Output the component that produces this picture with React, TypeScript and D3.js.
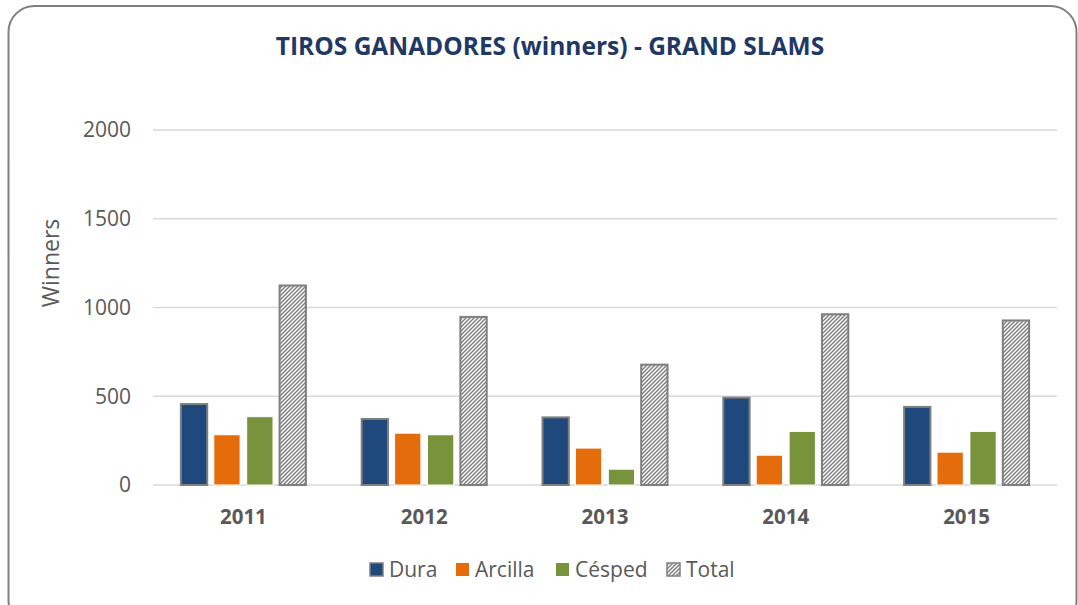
import React from "react";
import * as d3 from "d3";

const years = ["2011", "2012", "2013", "2014", "2015"];
const seriesNames = ["Dura", "Arcilla", "Césped", "Total"];
const dura = [456, 372, 381, 492, 440];
const arcilla = [283, 292, 208, 168, 185];
const cesped = [385, 283, 89, 302, 302];
const total = [1124, 947, 678, 962, 927];
const yTicks = [0, 500, 1000, 1500, 2000];

const W = 1078;
const H = 605;
const FONT = "'Open Sans', 'Liberation Sans', sans-serif";

export default function App() {
  const values = [dura, arcilla, cesped, total];
  const fills = ["#1F497D", "#E46C0A", "#77933C", "url(#hatch)"];
  const strokes = ["#7F7F7F", "#FFFFFF", "#FFFFFF", "#7F7F7F"];
  const strokeW = [2, 1, 1, 2];

  const x0 = d3.scaleBand<string>().domain(years).range([153, 1057]).padding(0);
  const groupW = 125;
  const y = d3.scaleLinear().domain([0, 2000]).range([485, 130]);

  const legendX = [370, 456, 556, 667];

  return (
    <svg
      width={W}
      height={H}
      style={{ position: "absolute", left: 0, top: 0, background: "#fff" }}
      fontFamily={FONT}
    >
      <defs>
        <pattern id="hatch" patternUnits="userSpaceOnUse" width="4" height="4">
          <rect width="4" height="4" fill="#fff" />
          <path d="M-1,1 l2,-2 M0,4 l4,-4 M3,5 l2,-2" stroke="#7F7F7F" strokeWidth="1.5" />
        </pattern>
      </defs>
      <rect x={8.5} y={6} width={1068} height={620} rx={26} ry={26} fill="#fff" stroke="#808080" strokeWidth={2} />
      <text x={550} y={55} textAnchor="middle" fontSize={24.5} fontWeight="bold" fill="#1F3864">
        TIROS GANADORES (winners) - GRAND SLAMS
      </text>
      {yTicks.map((t) => (
        <g key={t}>
          <line x1={153} x2={1057} y1={y(t)} y2={y(t)} stroke="#D9D9D9" strokeWidth={1.5} />
          <text x={131} y={y(t)} dy="0.35em" textAnchor="end" fontSize={21} fill="#595959">
            {t}
          </text>
        </g>
      ))}
      <text
        transform={`translate(51,263) rotate(-90)`}
        textAnchor="middle"
        dy="0.35em"
        fontSize={23}
        fill="#595959"
      >
        Winners
      </text>
      {years.map((yr, i) => {
        const c = (x0(yr) as number) + x0.bandwidth() / 2;
        const x1 = d3
          .scaleBand<string>()
          .domain(seriesNames)
          .range([c - groupW / 2, c + groupW / 2])
          .paddingInner(0.2)
          .paddingOuter(0);
        return (
          <g key={yr}>
            {seriesNames.map((s, k) => {
              const v = values[k][i];
              const bx = x1(s) as number;
              return (
                <rect
                  key={s}
                  x={bx}
                  y={y(v)}
                  width={x1.bandwidth()}
                  height={y(0) - y(v)}
                  fill={fills[k]}
                  stroke={strokes[k]}
                  strokeWidth={strokeW[k]}
                />
              );
            })}
            <text x={c} y={517} dy="0.35em" textAnchor="middle" fontSize={20.5} fontWeight="bold" fill="#595959">
              {yr}
            </text>
          </g>
        );
      })}
      {seriesNames.map((s, k) => (
        <g key={s}>
          <rect x={legendX[k]} y={563} width={13} height={13} fill={fills[k]} stroke={k === 0 || k === 3 ? "#7F7F7F" : "none"} strokeWidth={1.5} />
          <text x={legendX[k] + 19} y={570} dy="0.35em" fontSize={21} fill="#595959">
            {s}
          </text>
        </g>
      ))}
    </svg>
  );
}
